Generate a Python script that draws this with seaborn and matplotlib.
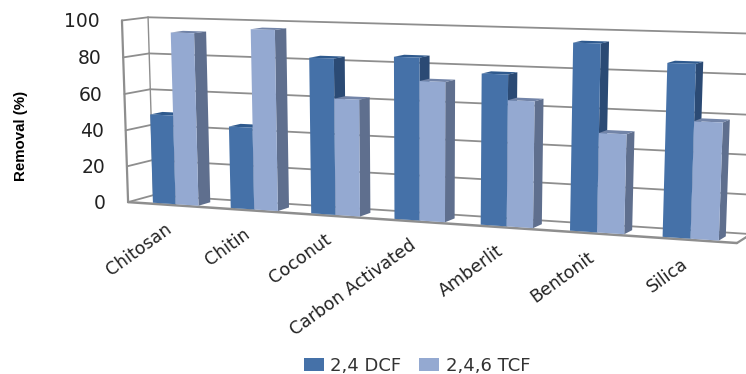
import numpy as np
import pandas as pd
import matplotlib
matplotlib.use("Agg")
import matplotlib.pyplot as plt
from matplotlib.patches import Polygon, Patch
from matplotlib.transforms import Transform
import seaborn as sns

materials = ["Chitosan", "Chitin", "Coconut", "Carbon Activated", "Amberlit", "Bentonit", "Silica"]
dcf_removal = [49, 44.5, 83, 85, 78, 95, 86.5]
tcf_removal = [94, 97, 62, 73, 65, 50.5, 58.5]
series_names = ["2,4 DCF", "2,4,6 TCF"]
value_ticks = [0, 20, 40, 60, 80, 100]

W, H = 746, 374
U_MIN, U_MAX = -0.58, 6.5
DEPTH_FRONT, DEPTH_BACK = 0.12, 0.6
BAR_WIDTH = 0.295

# Perspective camera: (category, value, depth) -> pixel, solved from reference points of the box
box_points = [
    ((U_MIN, 0, 0), (130, 203)), ((U_MIN, 100, 0), (122, 21)),
    ((U_MIN, 0, 1), (153, 199)), ((U_MIN, 100, 1), (150, 17)),
    ((U_MAX, 0, 0), (737, 245)), ((U_MAX, 0, 1), (752, 233)),
    ((U_MAX, 100, 1), (759, 34)),
]
bar_points = [
    ((0, 0, DEPTH_FRONT), (176, 205)), ((3, 0, DEPTH_FRONT), (419, 221)),
    ((6, 0, DEPTH_FRONT), (691, 239)),
    ((-BAR_WIDTH, 0, DEPTH_FRONT), (153, 202)), ((BAR_WIDTH, 0, DEPTH_FRONT), (198, 205)),
    ((6 - BAR_WIDTH, 0, DEPTH_FRONT), (663, 237)), ((6 + BAR_WIDTH, 0, DEPTH_FRONT), (719, 240)),
    ((BAR_WIDTH, 0, DEPTH_BACK), (209, 200)), ((6 + BAR_WIDTH, 0, DEPTH_BACK), (725, 233)),
    ((BAR_WIDTH, 94, DEPTH_BACK), (205, 31)), ((6 + BAR_WIDTH, 58.5, DEPTH_BACK), (728, 121)),
    ((BAR_WIDTH, 94, DEPTH_FRONT), (193, 32)), ((6 + BAR_WIDTH, 58.5, DEPTH_FRONT), (723, 123)),
    ((6 - BAR_WIDTH, 87.5, DEPTH_FRONT), (668, 62)), ((-BAR_WIDTH, 49, DEPTH_FRONT), (150, 113)),
]


def solve_camera(pairs):
    rows, rhs = [], []
    for (u, v, d), (px, py) in pairs:
        rows.append([u, v, d, 1, 0, 0, 0, 0, -px * u, -px * v, -px * d])
        rhs.append(px)
        rows.append([0, 0, 0, 0, u, v, d, 1, -py * u, -py * v, -py * d])
        rhs.append(py)
    sol = np.linalg.lstsq(np.array(rows, float), np.array(rhs, float), rcond=None)[0]
    return np.append(sol, 1.0).reshape(3, 4)


CAMERA = solve_camera(box_points + bar_points)


class PlaneProjection(Transform):
    """Projects 2D data lying on one plane of the 3D box to display pixels."""
    input_dims = output_dims = 2
    is_separable = False

    def __init__(self, lift):
        super().__init__()
        self.lift = lift

    def transform_non_affine(self, values):
        values = np.asarray(values, float).reshape(-1, 2)
        uvd = self.lift(values)
        hom = np.c_[uvd, np.ones(len(uvd))] @ CAMERA.T
        px = hom[:, 0] / hom[:, 2]
        py = hom[:, 1] / hom[:, 2]
        return np.c_[px, H - py]

    def inverted(self):
        raise NotImplementedError


def depth_plane(depth):
    # data is (category, value)
    return PlaneProjection(lambda a: np.c_[a[:, 0], a[:, 1], np.full(len(a), depth)])


def side_plane(u):
    # data is (depth, value)
    return PlaneProjection(lambda a: np.c_[np.full(len(a), u), a[:, 1], a[:, 0]])


def top_plane(v):
    # data is (category, depth)
    return PlaneProjection(lambda a: np.c_[a[:, 0], np.full(len(a), v), a[:, 1]])


sns.set_theme(style="white")
plt.rcParams["font.family"] = ["DejaVu Sans"]

df = pd.DataFrame({
    "material": materials * 2,
    "removal": dcf_removal + tcf_removal,
    "series": [series_names[0]] * 7 + [series_names[1]] * 7,
})

face_colors = ["#4571A8", "#94A9D1"]
side_colors = ["#2B4A74", "#5F6F8E"]
top_colors = ["#2F5A8E", "#7284A8"]
line_grey = "#8E8E8E"

fig = plt.figure(figsize=(W / 100, H / 100), dpi=100, facecolor="white")
ax = fig.add_axes([0, 0, 1, 1])
sns.barplot(data=df, x="material", y="removal", hue="series", hue_order=series_names,
            palette=face_colors, saturation=1, width=2 * BAR_WIDTH, gap=0, dodge=True,
            legend=False, ax=ax, zorder=5, edgecolor="none", linewidth=0)
ax.set_axis_off()

# Back wall, left wall and floor outline
back = depth_plane(1.0)
front = depth_plane(0.0)
left = side_plane(U_MIN)
for v in value_ticks:
    ax.plot([U_MIN, U_MAX], [v, v], transform=back, color=line_grey, lw=1.3, zorder=1)
    ax.plot([0, 1], [v, v], transform=left, color=line_grey, lw=1.3, zorder=1)
ax.plot([U_MIN, U_MIN], [0, 100], transform=front, color=line_grey, lw=1.6, zorder=2)
ax.plot([U_MIN, U_MIN], [0, 100], transform=back, color=line_grey, lw=1.0, zorder=1)
ax.plot([U_MIN, U_MAX], [0, 0], transform=front, color=line_grey, lw=1.8, zorder=2)
ax.plot([0, 1], [0, 0], transform=side_plane(U_MAX), color=line_grey, lw=1.6, zorder=2)

# Give every seaborn bar a perspective front face plus top and side faces
for s, container in enumerate(ax.containers):
    for i, rect in enumerate(container):
        x0, x1 = rect.get_x(), rect.get_x() + rect.get_width()
        v = rect.get_height()
        order = 10 + i * 4 + s * 2
        rect.set_transform(depth_plane(DEPTH_FRONT))
        rect.set_clip_on(False)
        rect.set_zorder(order + 1)
        ax.add_patch(Polygon([(DEPTH_FRONT, 0), (DEPTH_BACK, 0), (DEPTH_BACK, v), (DEPTH_FRONT, v)],
                             closed=True, transform=side_plane(x1), facecolor=side_colors[s],
                             edgecolor="none", zorder=order, clip_on=False))
        ax.add_patch(Polygon([(x0, DEPTH_FRONT), (x1, DEPTH_FRONT), (x1, DEPTH_BACK), (x0, DEPTH_BACK)],
                             closed=True, transform=top_plane(v), facecolor=top_colors[s],
                             edgecolor="none", zorder=order, clip_on=False))

ax.set_xlim(-1, 7)
ax.set_ylim(0, 110)

# Value axis labels
for v in value_ticks:
    ax.annotate(str(v), xy=(U_MIN, v), xycoords=front, xytext=(-22, -1), textcoords="offset pixels",
                ha="right", va="center", fontsize=13.5, color="#222222", annotation_clip=False)

# Category labels follow the sloping front edge
for i, name in enumerate(materials):
    ax.annotate(name, xy=(i, 0), xycoords=front, xytext=(-3, -22), textcoords="offset pixels",
                ha="right", va="center", rotation=36, rotation_mode="anchor",
                fontsize=12.5, color="#222222", annotation_clip=False)

fig.text(21 / W, 1 - 136 / H, "Removal (%)", rotation=90, ha="center", va="center",
         fontsize=10.8, fontweight="bold", color="black", family=["Liberation Sans"])

handles = [Patch(facecolor=c, edgecolor="none") for c in face_colors]
fig.legend(handles, series_names, loc="center", bbox_to_anchor=(417 / W, 1 - 366 / H), ncol=2,
           frameon=False, fontsize=13, handlelength=1.1, handleheight=0.75, handletextpad=0.35,
           columnspacing=1.0, borderpad=0, labelcolor="#333333")

fig.savefig("out.png", dpi=100, facecolor="white")
